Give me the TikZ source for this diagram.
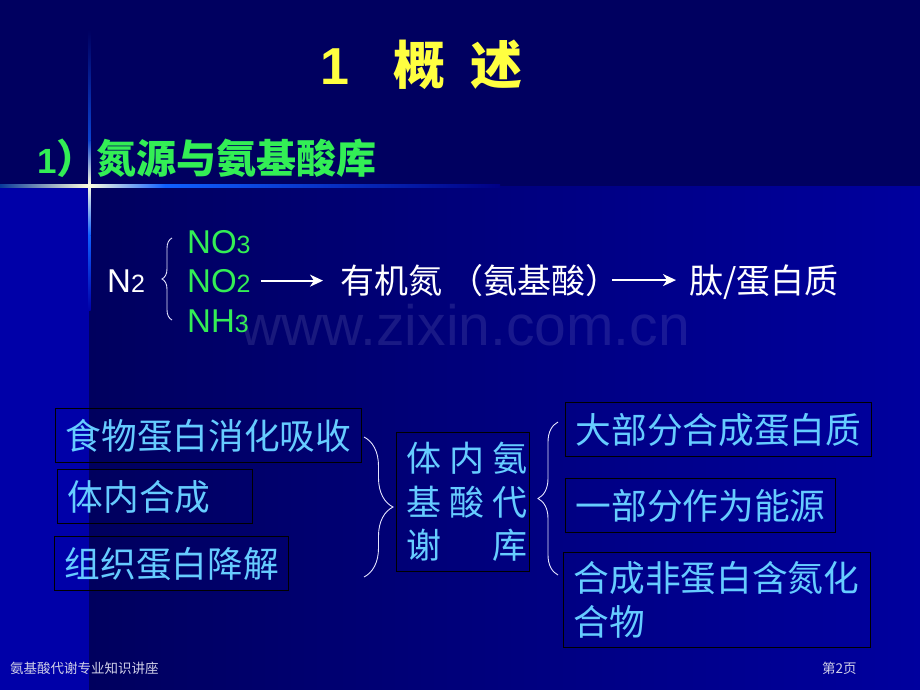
\documentclass[tikz,border=0pt]{standalone}
\usepackage{fontspec}
\setmainfont{Liberation Sans}
\newfontfamily\cjk{Noto Sans CJK SC}
\usetikzlibrary{arrows.meta,decorations.pathreplacing}
\definecolor{topband}{HTML}{000060}
\definecolor{strip}{HTML}{0000A8}
\definecolor{lowleft}{HTML}{00005E}
\definecolor{lowright}{HTML}{00009E}
\definecolor{crossblue}{HTML}{1060FF}
\definecolor{crosswhite}{HTML}{FFFFE0}
\definecolor{titleyellow}{HTML}{FFFF40}
\definecolor{headgreen}{HTML}{33EE55}
\definecolor{boxcyan}{HTML}{66CCFF}
\definecolor{footgray}{HTML}{D0D0E8}
\begin{document}
\begin{tikzpicture}[x=1pt,y=-1pt,
  txt/.style={anchor=base west,inner sep=0pt},
  box/.style={draw=black,line width=1.2pt,anchor=north west,inner xsep=10pt,inner ysep=0pt,
    align=left,text width=#1,minimum height=54pt,text=boxcyan,font=\cjk\fontsize{35.7}{43.5}\selectfont},
  curly/.style={decorate,decoration={brace,amplitude=#1,aspect=0.5},draw=white!90!blue,line width=0.9pt},
  arrowline/.style={-{Stealth[length=13pt,width=12pt,inset=4pt]},draw=white,line width=1.8pt},
  chem/.style={txt,text=headgreen,font=\fontsize{33}{33}\selectfont},
  foot/.style={txt,text=footgray,font=\cjk\fontsize{13.5}{13.5}\selectfont}]
  \useasboundingbox (0,0) rectangle (920,690);
  \fill[topband] (0,0) rectangle (920,186);
  \fill[strip] (0,186) rectangle (89,690);
  \shade[left color=lowleft,right color=lowright] (89,186) rectangle (920,690);
  \shade[left color=crossblue!60!black,right color=crosswhite] (0,184) rectangle (89,187);
  \shade[left color=crosswhite,right color=crossblue] (89,184) rectangle (165,187);
  \shade[left color=crossblue,right color=lowleft!40!lowright] (165,184) rectangle (500,187);
  \shade[top color=topband,bottom color=crossblue!70!topband] (88,30) rectangle (90.5,140);
  \shade[top color=crossblue!70!topband,bottom color=crosswhite] (88,140) rectangle (90.5,185);
  \shade[top color=crosswhite,bottom color=crossblue] (88,185) rectangle (90.5,235);
  \shade[top color=crossblue,bottom color=strip] (88,235) rectangle (90.5,310);

  \node[txt,text=titleyellow,font=\bfseries\fontsize{52}{52}\selectfont] (title) at (320,85)
    {1\hspace{44pt}{\cjk 概\hspace{25pt}述}};
  \node[txt,text=headgreen,font=\bfseries\fontsize{40}{40}\selectfont] (heading) at (37,173)
    {{\fontsize{35}{35}\selectfont 1}{\cjk ）氮源与氨基酸库}};

  \node[txt,text=white!90!blue,font=\fontsize{57}{57}\selectfont,text opacity=0.11] (mark) at (240,345) {www.zixin.com.cn};

  \node[txt,text=white,font=\fontsize{33}{33}\selectfont] (n2) at (107,292) {N{\fontsize{25}{25}\selectfont 2}};
  \node[chem] (no3) at (187,253) {NO{\fontsize{25}{25}\selectfont 3}};
  \node[chem] (no2) at (187,292) {NO{\fontsize{25}{25}\selectfont 2}};
  \node[chem] (nh3) at (187,332) {NH{\fontsize{25}{25}\selectfont 3}};
  \node[txt,text=white,font=\cjk\fontsize{34}{34}\selectfont] (organic) at (340,293) {有机氮 （氨基酸）};
  \node[txt,text=white,font=\cjk\fontsize{34}{34}\selectfont] (protein) at (689,293) {肽/蛋白质};
  \coordinate (fb-bot) at (172,320);
  \coordinate (fb-top) at (172,238);
  \draw[curly=10pt] (fb-bot) -- (fb-top);
  \draw[arrowline,shorten <=10pt,shorten >=17pt] (no2.east) -- (no2.east -| organic.west);
  \draw[arrowline,shorten <=-8pt,shorten >=13pt] (organic.east) -- (organic.east -| protein.west);

  \node[box=286pt] (food) at (55,408) {食物蛋白消化吸收};
  \node[box=175pt] (synth) at (57,469) {体内合成};
  \node[box=214pt] (tissue) at (54,536) {组织蛋白降解};
  \node[box=113pt,minimum height=139pt,font=\cjk\fontsize{35}{43.5}\selectfont] (pool) at (396,432)
    {\makebox[113pt][l]{体\hspace{8pt}内\hspace{8pt}氨}\\\makebox[113pt][l]{基\hspace{8pt}酸\hspace{8pt}代}\\\makebox[113pt][l]{谢\hspace{51pt}库}};
  \node[box=286pt] (most) at (565,402) {大部分合成蛋白质};
  \node[box=250pt] (energy) at (565,478) {一部分作为能源};
  \node[box=287pt,minimum height=95pt] (nonprot) at (563,552) {合成非蛋白含氮化\\合物};
  \coordinate (lb-top) at (364,437);
  \coordinate (lb-bot) at (364,577);
  \coordinate (rb-top) at (558,422);
  \coordinate (rb-bot) at (558,575);
  \draw[curly=29pt] (lb-top) -- (lb-bot);
  \draw[curly=20pt] (rb-bot) -- (rb-top);

  \node[foot] (course) at (10,673) {氨基酸代谢专业知识讲座};
  \node[foot] (page) at (822,673) {第2页};
\end{tikzpicture}
\end{document}
